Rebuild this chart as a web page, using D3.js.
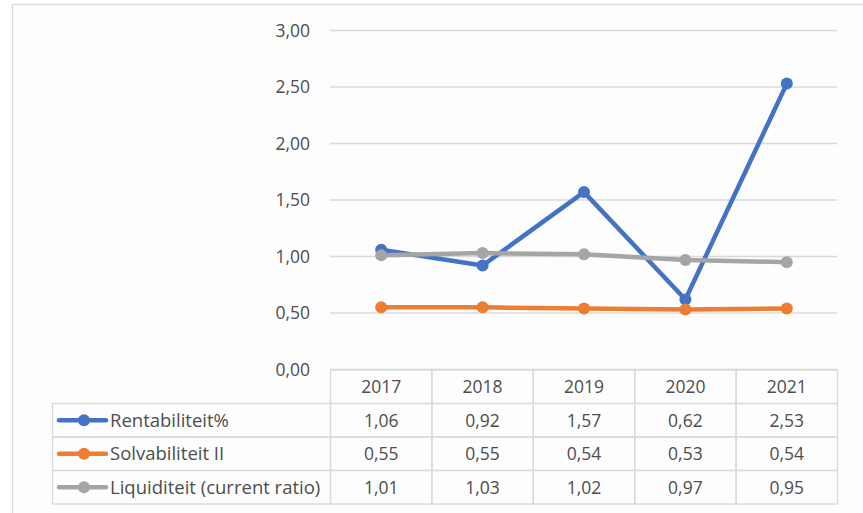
<!DOCTYPE html>
<html><head><meta charset="utf-8">
<script src="https://cdn.jsdelivr.net/npm/d3@7"></script>
<style>
html,body{margin:0;padding:0;background:#ffffff;}
svg{display:block;font-family:"Open Sans",sans-serif;}
</style></head>
<body><svg id="c" width="863" height="513"></svg>
<script>
const years = ["2017","2018","2019","2020","2021"];
const seriesNames = ["Rentabiliteit%","Solvabiliteit II","Liquiditeit (current ratio)"];
const rentabiliteit = [1.06,0.92,1.57,0.62,2.53];
const solvabiliteit = [0.55,0.55,0.54,0.53,0.54];
const liquiditeit = [1.01,1.03,1.02,0.97,0.95];
const yTicks = [0,0.5,1,1.5,2,2.5,3];
const colors = ["#4472C4","#ED7D31","#A5A5A5"];

const seriesValues = [rentabiliteit, solvabiliteit, liquiditeit];
const fmt = v => d3.format(".2f")(v).replace(".", ",");

const svg = d3.select("#c");
const textColor = "#4d4d4d", gridColor = "#d9d9d9";

// chart frame
svg.append("rect").attr("x",12.5).attr("y",4.5).attr("width",900).attr("height",600)
  .attr("fill","#fdfdfd").attr("stroke","#d9d9d9").attr("stroke-width",1.3);

const x = d3.scaleBand().domain(years).range([330.5,837.5]);
const y = d3.scaleLinear().domain([0,3]).range([369.5,30.5]);

// gridlines
svg.append("g").selectAll("line").data(yTicks).join("line")
  .attr("x1",330).attr("x2",837)
  .attr("y1",d=>y(d)).attr("y2",d=>y(d))
  .attr("stroke",gridColor).attr("stroke-width",1.3);

// y axis labels
svg.append("g").selectAll("text").data(yTicks).join("text")
  .attr("x",310).attr("y",d=>y(d)).attr("dy","0.35em")
  .attr("text-anchor","end").attr("font-size",17.5).attr("fill",textColor)
  .text(d=>fmt(d));

// lines
const line = d3.line().x((d,i)=>x(years[i])+x.bandwidth()/2).y(d=>y(d));
[0,1,2].forEach(s=>{
  svg.append("path").datum(seriesValues[s]).attr("d",line)
    .attr("fill","none").attr("stroke",colors[s]).attr("stroke-width",4.5)
    .attr("stroke-linejoin","round").attr("stroke-linecap","round");
  svg.append("g").selectAll("circle").data(seriesValues[s]).join("circle")
    .attr("cx",(d,i)=>x(years[i])+x.bandwidth()/2).attr("cy",d=>y(d))
    .attr("r",6).attr("fill",colors[s]);
});

// data table
const rowY = d3.scaleBand().domain(["h",0,1,2]).range([370,504]);
const tbl = svg.append("g");
const legendLeft = 52.5;
years.forEach(yr=>{
  tbl.append("rect").attr("x",x(yr)).attr("y",rowY("h")).attr("width",x.bandwidth()).attr("height",rowY.bandwidth())
    .attr("fill","none").attr("stroke",gridColor).attr("stroke-width",1.3);
  tbl.append("text").attr("x",x(yr)+x.bandwidth()/2).attr("y",rowY("h")+rowY.bandwidth()/2).attr("dy","0.36em")
    .attr("text-anchor","middle").attr("font-size",17.5).attr("fill",textColor).text(yr);
});
seriesNames.forEach((name,s)=>{
  const ry = rowY(s), rh = rowY.bandwidth();
  tbl.append("rect").attr("x",legendLeft).attr("y",ry).attr("width",x.range()[0]-legendLeft).attr("height",rh)
    .attr("fill","none").attr("stroke",gridColor).attr("stroke-width",1.3);
  tbl.append("line").attr("x1",59).attr("x2",106).attr("y1",ry+rh/2).attr("y2",ry+rh/2)
    .attr("stroke",colors[s]).attr("stroke-width",4.5).attr("stroke-linecap","round");
  tbl.append("circle").attr("cx",84).attr("cy",ry+rh/2).attr("r",6).attr("fill",colors[s]);
  tbl.append("text").attr("x",110).attr("y",ry+rh/2).attr("dy","0.36em")
    .attr("font-size",18.5).attr("fill",textColor).text(name);
  years.forEach((yr,i)=>{
    tbl.append("rect").attr("x",x(yr)).attr("y",ry).attr("width",x.bandwidth()).attr("height",rh)
      .attr("fill","none").attr("stroke",gridColor).attr("stroke-width",1.3);
    tbl.append("text").attr("x",x(yr)+x.bandwidth()/2).attr("y",ry+rh/2).attr("dy","0.36em")
      .attr("text-anchor","middle").attr("font-size",17.5).attr("fill",textColor).text(fmt(seriesValues[s][i]));
  });
});
</script></body></html>
